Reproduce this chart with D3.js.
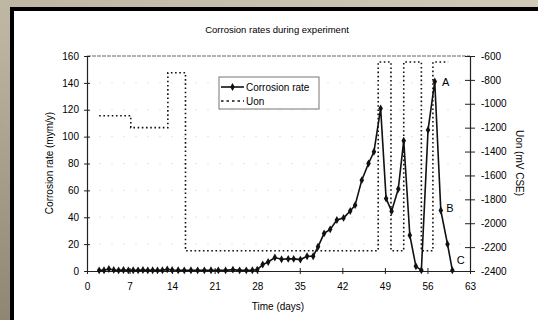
<!DOCTYPE html>
<html>
<head>
<meta charset="utf-8">
<script src="https://cdn.jsdelivr.net/npm/d3@7"></script>
<style>
  html, body { margin: 0; padding: 0; }
  body { width: 538px; height: 320px; overflow: hidden; }
  text { font-family: "Liberation Sans", Arial, sans-serif; fill: #000; }
</style>
</head>
<body>
<div id="chart-container"></div>
<script>
// corrosion rate (mym/y)
const rateDays = [2, 2.8, 3.6, 4.4, 5.2, 6, 6.8, 7.6, 8.4, 9.2, 10, 10.8, 11.6, 12.4, 13.2, 14,
  15, 16, 17.1, 18.2, 19.3, 20.4, 21.6, 22.8, 24, 25.1, 26.2, 27.2, 28,
  28.9, 29.8, 30.9, 32, 33.1, 34, 35.1, 36.2, 37.2, 38, 39, 40, 41.1, 42.2, 43.3, 44.1, 45.2,
  46.3, 47.2, 48.3, 49.2, 50.1, 51.2, 52.1, 53.1, 54.1, 55, 56.1, 57.2, 58.2, 59.3, 60.1];
const rateValues = [0.5, 0.6, 1.5, 0.8, 0.5, 0.7, 0.5, 0.6, 0.5, 0.7, 0.5, 0.6, 0.5, 0.6, 1.2, 0.7,
  0.6, 0.5, 0.6, 0.5, 0.5, 0.6, 0.5, 0.5, 1, 0.5, 0.5, 0.6, 1,
  4.8, 6.7, 10, 8.7, 9, 9, 8.5, 11, 11, 18, 28, 31, 38, 39.5, 44.7, 49, 67.6,
  80, 88.7, 121, 54, 44.5, 61, 97, 26.6, 3.5, 0.5, 105, 141, 45, 20, 0.5];

// Uon potential (mV CSE), step series
const uonDays = [2, 7.2, 13.3, 16.2, 47.9, 50, 52.1, 55, 56.9, 59.4];
const uonValues = [-1100, -1200, -740, -2230, -650, -2230, -650, -2230, -650, -650];

const xTicks = [0, 7, 14, 21, 28, 35, 42, 49, 56, 63];
const leftTicks = [0, 20, 40, 60, 80, 100, 120, 140, 160];
const rightTicks = [-2400, -2200, -2000, -1800, -1600, -1400, -1200, -1000, -800, -600];

const annotations = [
  { label: "A", day: 58.4, value: 141 },
  { label: "B", day: 59.1, value: 47 },
  { label: "C", day: 60.8, value: 8 }
];

const W = 538, H = 320;
const plot = { left: 87, right: 470, top: 56, bottom: 271 };

const svg = d3.select("#chart-container").append("svg")
  .attr("width", W).attr("height", H);

const defs = svg.append("defs");
const grad = defs.append("linearGradient").attr("id", "bg")
  .attr("x1", "100%").attr("y1", "0%").attr("x2", "0%").attr("y2", "100%");
grad.append("stop").attr("offset", "0%").attr("stop-color", "#d2cab9");
grad.append("stop").attr("offset", "55%").attr("stop-color", "#bdb4a2");
grad.append("stop").attr("offset", "100%").attr("stop-color", "#8e8573");

svg.append("rect").attr("width", W).attr("height", H).attr("fill", "url(#bg)");
svg.append("rect").attr("x", 10).attr("y", 7).attr("width", W).attr("height", H).attr("fill", "#000");
svg.append("rect").attr("x", 14).attr("y", 11).attr("width", W).attr("height", H).attr("fill", "#fff");

const x = d3.scaleLinear().domain([0, 63]).range([plot.left, plot.right]);
const yL = d3.scaleLinear().domain([0, 160]).range([plot.bottom, plot.top]);
const yR = d3.scaleLinear().domain([-2400, -600]).range([plot.bottom, plot.top]);

// faint gridlines
svg.append("g").selectAll("line").data(leftTicks.slice(1, -1)).join("line")
  .attr("x1", plot.left).attr("x2", plot.right)
  .attr("y1", d => yL(d)).attr("y2", d => yL(d))
  .attr("stroke", "#e6e6e6").attr("stroke-width", 1).attr("stroke-dasharray", "2,10");

// top border
svg.append("line")
  .attr("x1", plot.left).attr("x2", plot.right)
  .attr("y1", plot.top).attr("y2", plot.top)
  .attr("stroke", "#666").attr("stroke-width", 1.2).attr("stroke-dasharray", "4,1");

function styleAxis(g) {
  g.select(".domain").attr("stroke", "#222").attr("stroke-width", 1.2);
  g.selectAll(".tick line").attr("stroke", "#222");
  g.selectAll(".tick text").style("font-size", "10px").attr("fill", "#000")
    .style("font-family", "'Liberation Sans', Arial, sans-serif");
}

const plain = d => String(d);

const xAxis = svg.append("g").attr("transform", `translate(0,${plot.bottom})`)
  .call(d3.axisBottom(x).tickValues(xTicks).tickFormat(plain).tickSizeInner(3).tickSizeOuter(0).tickPadding(9));
xAxis.selectAll(".tick line").attr("y1", -3);
styleAxis(xAxis);

const leftAxis = svg.append("g").attr("transform", `translate(${plot.left},0)`)
  .call(d3.axisLeft(yL).tickValues(leftTicks).tickFormat(plain).tickSizeInner(3).tickSizeOuter(0).tickPadding(5));
leftAxis.selectAll(".tick line").attr("x1", 3);
styleAxis(leftAxis);

const rightAxis = svg.append("g").attr("transform", `translate(${plot.right},0)`)
  .call(d3.axisRight(yR).tickValues(rightTicks).tickFormat(plain).tickSizeInner(5).tickSizeOuter(0).tickPadding(6));
rightAxis.selectAll(".tick line").attr("x1", -5);
styleAxis(rightAxis);

// Uon step line
const uonData = uonDays.map((d, i) => ({ x: d, y: uonValues[i] }));
svg.append("path").datum(uonData)
  .attr("fill", "none").attr("stroke", "#111").attr("stroke-width", 1.6)
  .attr("stroke-dasharray", "1.6,2.6")
  .attr("d", d3.line().x(d => x(d.x)).y(d => yR(d.y)).curve(d3.curveStepAfter));

// corrosion rate line + markers
const rateData = rateDays.map((d, i) => ({ x: d, y: rateValues[i] }));
svg.append("path").datum(rateData)
  .attr("fill", "none").attr("stroke", "#111").attr("stroke-width", 1.6)
  .attr("d", d3.line().x(d => x(d.x)).y(d => yL(d.y)));

const diamond = d3.symbol().type(d3.symbolDiamond).size(18);
svg.append("g").selectAll("path").data(rateData).join("path")
  .attr("transform", d => `translate(${x(d.x)},${yL(d.y)})`)
  .attr("d", diamond).attr("fill", "#111");

// annotations
svg.append("g").selectAll("text").data(annotations).join("text")
  .attr("x", d => x(d.day)).attr("y", d => yL(d.value) + 4)
  .attr("fill", "#000").style("font-size", "11px").text(d => d.label);

// legend
const legend = svg.append("g").attr("transform", "translate(219,77)");
legend.append("rect").attr("width", 100).attr("height", 32)
  .attr("fill", "#fff").attr("stroke", "#777").attr("stroke-width", 1);
legend.append("line").attr("x1", 2).attr("x2", 25).attr("y1", 10).attr("y2", 10)
  .attr("stroke", "#111").attr("stroke-width", 1.6);
legend.append("path").attr("transform", "translate(13.5,10)").attr("d", diamond).attr("fill", "#111");
legend.append("text").attr("x", 27).attr("y", 13.5).style("font-size", "10px").text("Corrosion rate");
legend.append("line").attr("x1", 2).attr("x2", 25).attr("y1", 24).attr("y2", 24)
  .attr("stroke", "#111").attr("stroke-width", 1.6).attr("stroke-dasharray", "2.5,3");
legend.append("text").attr("x", 27).attr("y", 27.5).style("font-size", "10px").text("Uon");

// titles
svg.append("text").attr("x", 277).attr("y", 33).attr("text-anchor", "middle")
  .style("font-size", "9.5px").text("Corrosion rates during experiment");
svg.append("text").attr("x", 278).attr("y", 310).attr("text-anchor", "middle")
  .style("font-size", "10px").text("Time (days)");
svg.append("text").attr("transform", "translate(53,163) rotate(-90)")
  .attr("text-anchor", "middle").style("font-size", "10px").text("Corrosion rate (mym/y)");
svg.append("text").attr("transform", "translate(516,163) rotate(90)")
  .attr("text-anchor", "middle").style("font-size", "10px").text("Uon (mV CSE)");
</script>
</body>
</html>
